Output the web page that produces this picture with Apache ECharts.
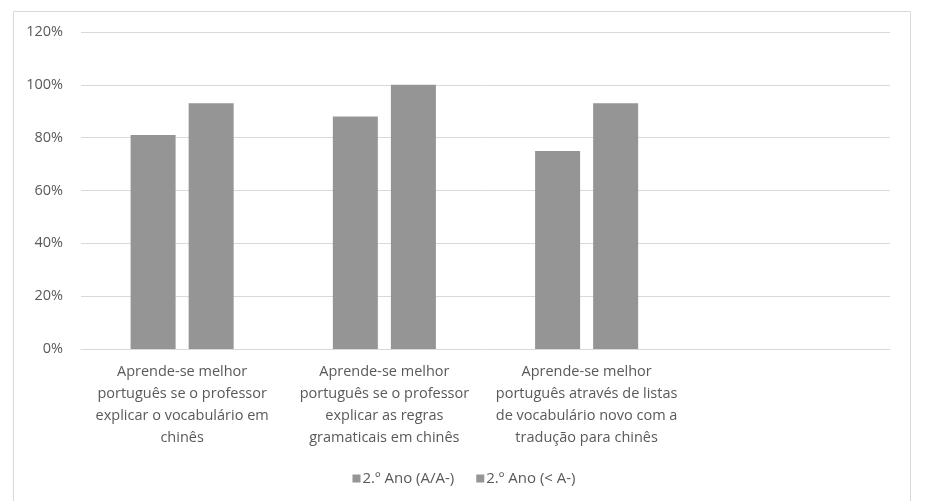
<!DOCTYPE html>
<html><head><meta charset="utf-8">
<script src="https://cdn.jsdelivr.net/npm/echarts@6/dist/echarts.min.js"></script>
<style>html,body{margin:0;padding:0;background:#fff}#c{width:928px;height:501px}</style>
</head><body><div id="c"></div>
<script>
var categories = [
  'Aprende-se melhor\nportuguês se o professor\nexplicar o vocabulário em\nchinês',
  'Aprende-se melhor\nportuguês se o professor\nexplicar as regras\ngramaticais em chinês',
  'Aprende-se melhor\nportuguês através de listas\nde vocabulário novo com a\ntradução para chinês',
  ''
];
var seriesNames = ['2.º Ano (A/A-)', '2.º Ano (< A-)'];
var valuesA = [81, 88, 75, null];
var valuesB = [93, 100, 93, null];

var chart = echarts.init(document.getElementById('c'));
var font = 'Open Sans';
chart.setOption({
  animation: false,
  graphic: [{type:'rect', shape:{x:13.5, y:11.5, width:897, height:520}, style:{fill:'none', stroke:'#d9d9d9', lineWidth:1}}],
  grid: {left:81, right:38, top:32, bottom:152, containLabel:false},
  legend: {
    top: 466, left: 'center',
    itemWidth: 8, itemHeight: 8, itemGap: 22,
    icon: 'rect',
    textStyle: {color:'#595959', fontFamily:font, fontSize:15, padding:[0,0,0,-3]},
    data: seriesNames
  },
  xAxis: {
    type:'category', data: categories,
    axisLine:{lineStyle:{color:'#d9d9d9'}},
    axisTick:{show:false},
    axisLabel:{color:'#595959', fontFamily:font, fontSize:14.5, lineHeight:22, margin:12, interval:0}
  },
  yAxis: {
    type:'value', min:0, max:120, interval:20,
    axisLabel:{formatter:'{value}%', color:'#595959', fontFamily:font, fontSize:14.5, margin:18},
    splitLine:{lineStyle:{color:'#d9d9d9'}},
    axisLine:{show:false}, axisTick:{show:false}
  },
  series: [
    {name:seriesNames[0], type:'bar', data:valuesA, barWidth:45, barGap:'29%', itemStyle:{color:'#959595'}},
    {name:seriesNames[1], type:'bar', data:valuesB, barWidth:45, itemStyle:{color:'#959595'}}
  ]
});
</script></body></html>
